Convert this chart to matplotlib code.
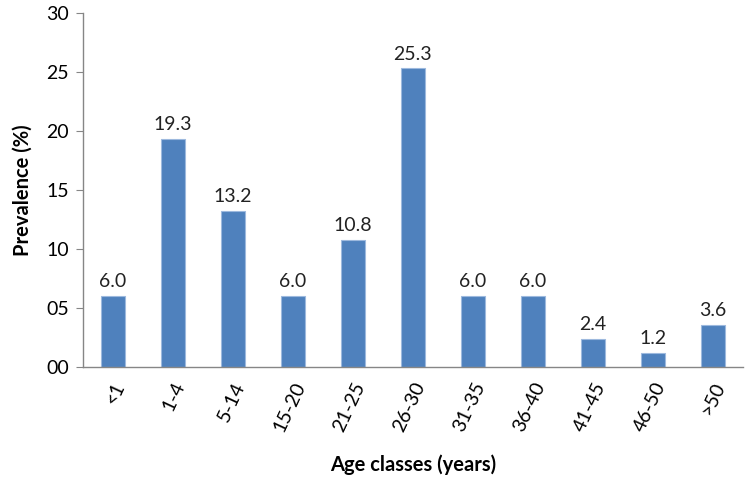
import matplotlib
matplotlib.use("Agg")
import matplotlib.pyplot as plt

categories = ["<1", "1-4", "5-14", "15-20", "21-25", "26-30", "31-35", "36-40", "41-45", "46-50", ">50"]
values = [6.0, 19.3, 13.2, 6.0, 10.8, 25.3, 6.0, 6.0, 2.4, 1.2, 3.6]
yticks = [0, 5, 10, 15, 20, 25, 30]
ytick_labels = ["00", "05", "10", "15", "20", "25", "30"]

plt.rcParams['font.family'] = ['Lato', 'DejaVu Sans']

fig = plt.figure(figsize=(7.52, 4.82), dpi=100)
ax = fig.add_axes([0.110, 0.2386, 0.878, 0.7344])

x = list(range(len(categories)))
bars = ax.bar(x, values, width=0.4, color="#4F81BD", edgecolor="#9DB9DE", linewidth=0.8)
for xi, v in zip(x, values):
    ax.text(xi, v + 0.5, f"{v:.1f}", ha="center", va="bottom", fontsize=14, color="#222222")

ax.set_xlim(-0.5, len(categories) - 0.5)
ax.set_ylim(0, 30)
ax.set_yticks(yticks)
ax.set_yticklabels(ytick_labels, fontsize=14)
ax.set_xticks(x)
ax.set_xticklabels(categories, rotation=65, ha="right", rotation_mode="anchor", fontsize=14)
ax.tick_params(axis="x", length=0, pad=9)
ax.tick_params(axis="y", length=5, color="#868686", pad=5)

for s in ["top", "right"]:
    ax.spines[s].set_visible(False)
for s in ["left", "bottom"]:
    ax.spines[s].set_color("#868686")
    ax.spines[s].set_linewidth(1.0)

ax.set_ylabel("Prevalence (%)", fontsize=14.5, fontweight="bold", labelpad=10)
ax.set_xlabel("Age classes (years)", fontsize=14.5, fontweight="bold", labelpad=14)

fig.savefig("out.png", dpi=100)
